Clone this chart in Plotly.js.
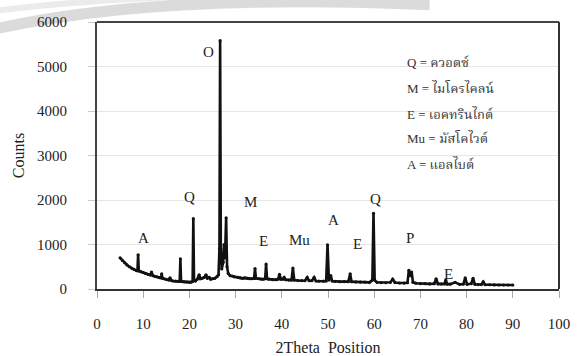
<!DOCTYPE html>
<html>
<head>
<meta charset="utf-8">
<script src="https://cdn.plot.ly/plotly-3.0.1.min.js"></script>
<style>html,body{margin:0;padding:0;background:#fff;}#chart{width:578px;height:356px;}</style>
</head>
<body>
<div id="chart"></div>
<script>
const twoTheta = [5.0,5.5,6.0,6.5,7.0,7.5,8.0,8.5,8.75,8.9,9.05,9.5,10.0,10.5,11.0,11.5,11.8,12.1,12.5,13.0,13.5,13.9,14.0,14.15,14.5,15.0,15.5,15.8,16.1,16.5,17.0,17.5,17.9,18.05,18.2,18.6,19.0,19.5,20.0,20.4,20.7,20.85,21.0,21.3,21.7,22.1,22.4,22.8,23.2,23.6,23.9,24.3,24.6,25.0,25.5,26.0,26.3,26.5,26.65,26.8,27.0,27.3,27.5,27.7,27.95,28.15,28.4,28.8,29.3,29.8,30.5,31.0,31.5,32.0,32.5,33.0,33.5,34.0,34.2,34.4,35.0,35.5,36.0,36.4,36.6,36.8,37.2,38.0,38.7,39.2,39.5,39.8,40.2,40.5,40.8,41.5,42.1,42.4,42.7,43.5,44.3,45.0,45.5,45.9,46.5,47.0,47.4,48.0,49.0,49.6,49.9,50.2,50.6,50.9,51.5,52.5,53.5,54.4,54.8,55.1,56.0,57.0,58.0,59.0,59.6,59.85,60.1,60.6,61.5,62.5,63.5,64.0,64.5,65.5,66.5,67.2,67.5,67.8,68.1,68.4,69.0,70.0,71.0,72.0,73.0,73.4,73.8,74.5,75.2,75.5,75.8,76.5,77.5,78.5,79.3,79.7,80.1,81.0,81.4,81.8,82.5,83.2,83.6,84.0,85.0,86.0,87.0,88.0,89.0,90.0];
const counts = [700,640,590,540,500,465,440,415,410,770,405,390,370,350,330,315,380,300,285,270,255,250,340,245,230,215,200,250,190,180,175,170,170,680,170,165,160,155,150,155,170,1580,200,180,220,320,230,240,260,320,240,260,220,230,240,280,320,900,5580,900,450,600,1000,700,1600,500,350,300,290,270,260,250,240,250,240,230,230,240,460,240,230,220,220,230,560,230,220,210,210,220,330,220,220,260,210,200,200,470,200,190,190,185,260,185,185,260,180,175,175,180,990,200,300,180,170,165,165,165,340,165,160,155,155,150,200,1700,200,150,145,140,150,220,145,135,130,140,420,300,380,150,130,120,120,115,120,230,115,110,115,200,110,110,150,105,110,250,105,120,240,105,100,100,160,95,95,92,90,90,90,90];

// Phase labels placed over peaks
const peakLabels = ["O","Q","A","M","E","Mu","A","E","Q","P","E"];
const peakLabelX = [24.2,20.1,10.0,33.2,36.1,43.9,51.1,56.3,60.2,67.8,76.0];
const peakLabelY = [5330,2060,1150,1960,1080,1100,1550,1010,2020,1150,330];

// Key text
const keyLines = ["Q = ควอตซ์","M = ไมโครไคลน์","E = เอคทรินไกต์","Mu = มัสโคไวต์","A = แอลไบต์"];
const keyY = [5100,4517,3933,3393,2809];

const xTicks = [0,10,20,30,40,50,60,70,80,90,100];
const yTicks = [0,1000,2000,3000,4000,5000,6000];

const serif = "Liberation Serif, Times New Roman, Noto Serif Thai, serif";

const annotations = [];
peakLabels.forEach((t,i)=>annotations.push({x:peakLabelX[i],y:peakLabelY[i],xref:'x',yref:'y',text:t,showarrow:false,font:{family:serif,size:15,color:'#222'}}));
keyLines.forEach((t,i)=>annotations.push({x:66.7,y:keyY[i],xref:'x',yref:'y',xanchor:'left',text:t,showarrow:false,font:{family:serif,size:13,color:'#333'}}));

const trace = {
  x: twoTheta, y: counts, type:'scatter', mode:'lines+markers',
  line:{color:'#111',width:2.6}, marker:{color:'#111',size:3.2},
  hoverinfo:'skip', showlegend:false
};

const layout = {
  width:578, height:356,
  margin:{l:97,r:19,t:22,b:67,pad:0},
  paper_bgcolor:'#fff', plot_bgcolor:'#fff',
  font:{family:serif,color:'#222'},
  xaxis:{range:[0,100],tickvals:xTicks,ticktext:xTicks.map(String),ticks:'outside',ticklen:7,tickcolor:'#aaa',
    ticklabelstandoff:13,showgrid:false,zeroline:false,showline:true,linecolor:'#333',linewidth:2,mirror:false,
    tickfont:{family:serif,size:15,color:'#222'},
    title:{text:'2Theta  Position',font:{family:serif,size:16,color:'#222'},standoff:14}},
  yaxis:{range:[0,6000],tickvals:yTicks,ticktext:yTicks.map(String),ticks:'outside',ticklen:7,tickcolor:'#ccc',
    ticklabelstandoff:18,showgrid:true,gridcolor:'#e6e6e6',gridwidth:1,zeroline:false,showline:true,linecolor:'#444',linewidth:2,
    tickfont:{family:serif,size:15,color:'#222'},
    title:{text:'Counts',font:{family:serif,size:16,color:'#222'},standoff:8}},
  shapes:[
    {type:'line',xref:'paper',yref:'paper',x0:0,x1:1,y0:1,y1:1,line:{color:'#444',width:2}},
    {type:'line',xref:'paper',yref:'paper',x0:1,x1:1,y0:0,y1:1,line:{color:'#333',width:2}},
    {type:'path',xref:'paper',yref:'paper',layer:'below',
      path:'M -0.23 0.97 Q 0.12 1.11 0.72 1.065',line:{color:'rgba(195,195,195,0.6)',width:11}},
    {type:'path',xref:'paper',yref:'paper',layer:'below',
      path:'M -0.23 1.04 Q 0.0 1.09 0.3 1.1',line:{color:'rgba(215,215,215,0.5)',width:6}}
  ],
  annotations: annotations
};

Plotly.newPlot('chart',[trace],layout,{staticPlot:true,displayModeBar:false});
</script>
</body>
</html>
